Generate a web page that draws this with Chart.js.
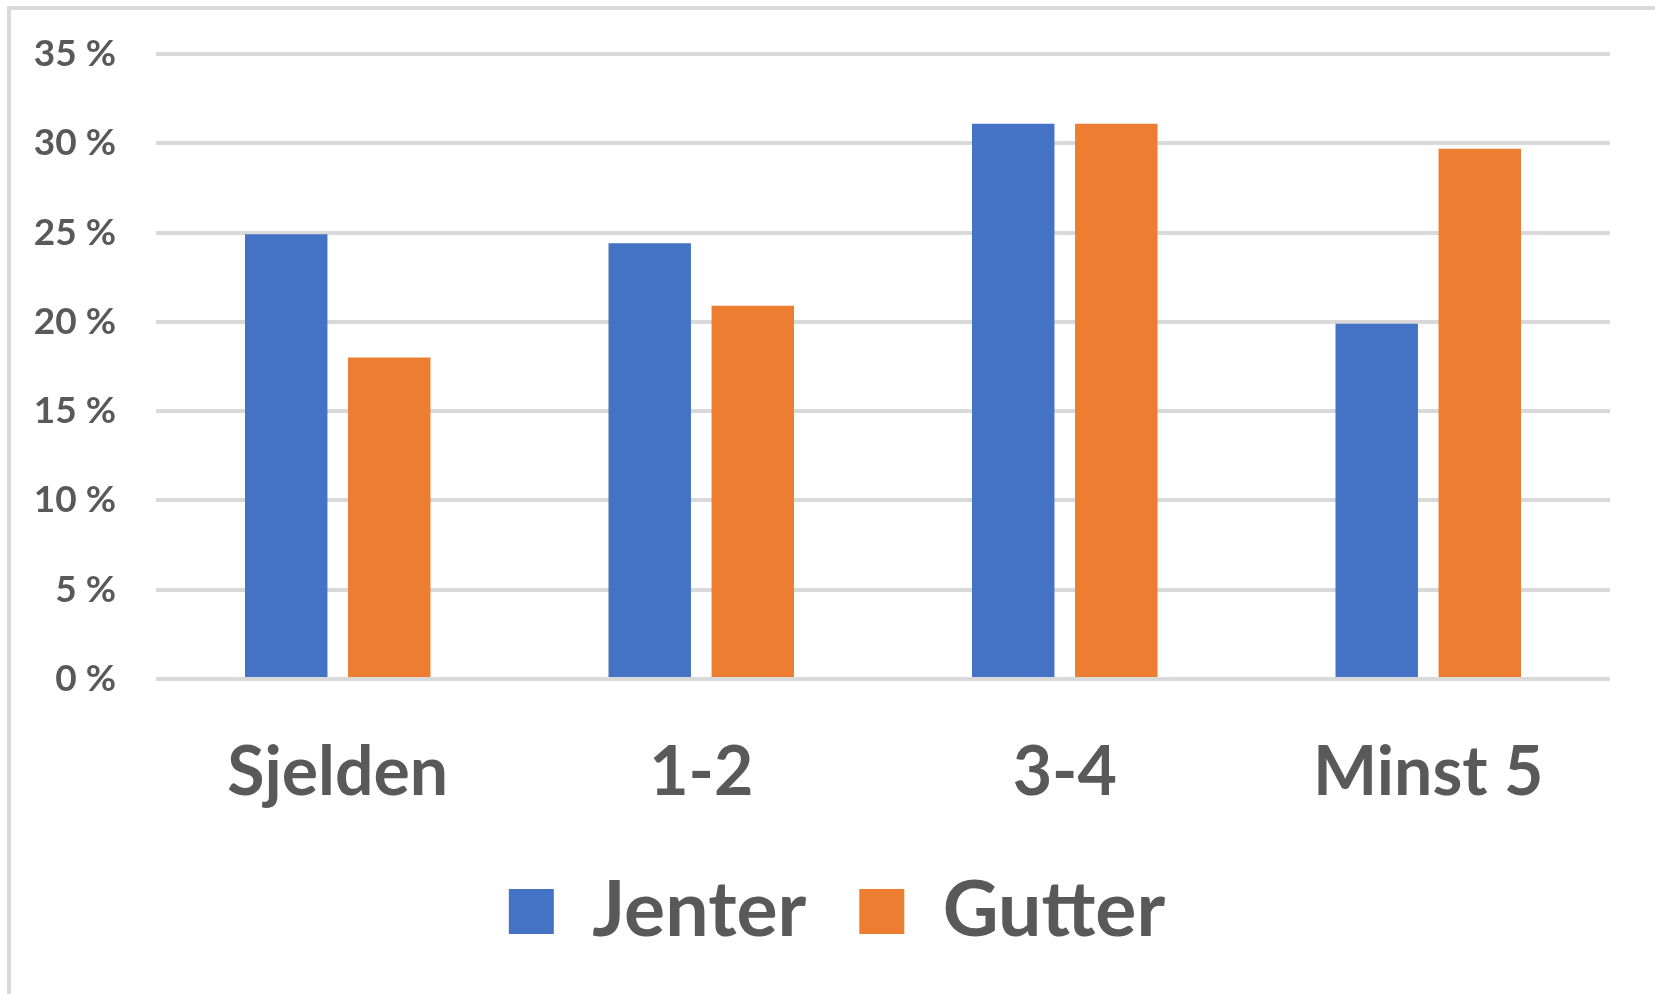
<!DOCTYPE html><html><head>
    <title>Jenter og gutter</title>
    <style>
        body { margin: 0; background: #fff; }
        #wrap { position: relative; width: 1655px; height: 994px; }
        #frame { position: absolute; left: 7px; top: 6px; right: -10px; bottom: -10px;
                 border-left: 4px solid #d9d9d9; border-top: 4px solid #d9d9d9; }
        #chart { position: absolute; left: 0; top: 0; }
    </style>
</head>
<body>
    <div id="wrap">
        <div id="frame"></div>
        <canvas id="chart" width="1655" height="994"></canvas>
    </div>
    <script src="https://cdn.jsdelivr.net/npm/chart.js"></script>
    <script>
        Chart.defaults.font.family = "Lato, 'Open Sans', sans-serif";
        Chart.defaults.color = '#595959';

        const categories = ['Sjelden', '1-2', '3-4', 'Minst 5'];
        const jenter = [24.9, 24.4, 31.1, 19.9];
        const gutter = [18.0, 20.9, 31.1, 29.7];
        const seriesNames = ['Jenter', 'Gutter'];

        // legend in the original sits a bit right of the canvas centre
        const legendShift = {
            id: 'legendShift',
            afterLayout(chart) {
                chart.legend.left += 32;
                chart.legend.right += 32;
            }
        };

        const ctx = document.getElementById('chart').getContext('2d');
        const chart = new Chart(ctx, {
            type: 'bar',
            data: {
                labels: categories,
                datasets: [
                    { label: seriesNames[0], data: jenter, backgroundColor: '#4472C4',
                      categoryPercentage: 0.567, barPercentage: 0.8 },
                    { label: seriesNames[1], data: gutter, backgroundColor: '#ED7D31',
                      categoryPercentage: 0.567, barPercentage: 0.8 }
                ]
            },
            options: {
                responsive: false,
                animation: false,
                layout: { padding: { left: 0, right: 45, top: 54, bottom: 34 } },
                scales: {
                    x: {
                        grid: { display: false },
                        border: { display: false },
                        ticks: { font: { size: 68, weight: 'bold' }, color: '#595959', padding: 45 },
                        afterFit: function(scale) { scale.height = 141; }
                    },
                    y: {
                        min: 0, max: 35,
                        border: { display: false },
                        grid: { color: '#d9d9d9', lineWidth: 4, drawTicks: false },
                        ticks: {
                            stepSize: 5, padding: 40, color: '#595959',
                            font: { size: 37, weight: 'bold' },
                            callback: function(v) { return v + ' %'; }
                        },
                        afterFit: function(scale) {
                            scale.width = 156;
                            scale.paddingTop = 20;
                            scale.paddingBottom = 20;
                        }
                    }
                },
                plugins: {
                    tooltip: { enabled: false },
                    legend: {
                        position: 'bottom',
                        labels: {
                            boxWidth: 45, boxHeight: 45, padding: 53,
                            color: '#595959',
                            font: { size: 77, weight: 'bold' }
                        }
                    }
                }
            },
            plugins: [legendShift]
        });
    </script>
</body></html>
